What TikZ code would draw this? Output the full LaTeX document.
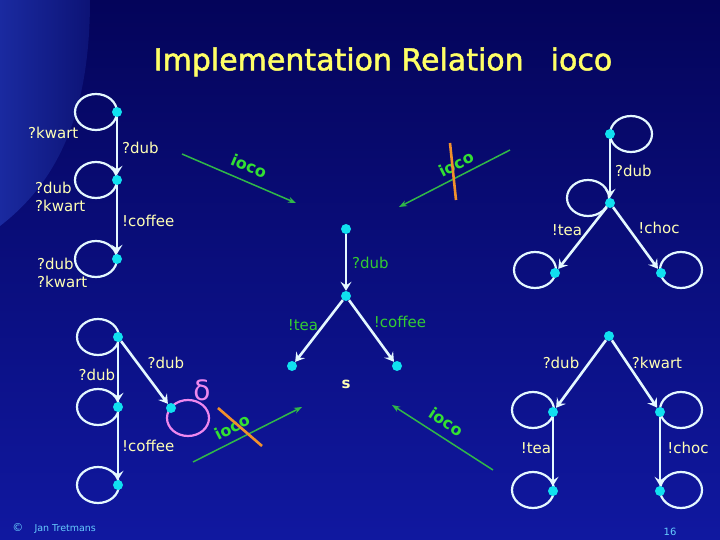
\documentclass[tikz,border=0pt]{standalone}
\usepackage{fontspec}
\setmainfont{DejaVu Sans}
\newfontfamily\titlefont{DejaVu Sans}[FakeBold=1.6]
\usetikzlibrary{arrows.meta,backgrounds}

\definecolor{bgtop}{HTML}{04045A}
\definecolor{bgbottom}{HTML}{1018A0}
\definecolor{bglight}{HTML}{1A2AA0}
\definecolor{statecyan}{HTML}{10E0F0}
\definecolor{linewhite}{HTML}{E4F8FF}
\definecolor{labyellow}{HTML}{FFFFB4}
\definecolor{labgreen}{HTML}{33CC33}
\definecolor{iocogreen}{HTML}{33E033}
\definecolor{arrowgreen}{HTML}{30B848}
\definecolor{slashorange}{HTML}{F0902C}
\definecolor{deltapink}{HTML}{EE88EE}
\definecolor{titleyellow}{HTML}{FFFF66}
\definecolor{footblue}{HTML}{66CCFF}

\tikzset{
  state/.style={circle, fill=statecyan, inner sep=0pt, minimum size=10pt},
  trans/.style={draw=linewhite, line width=2.6pt, -{Stealth[length=9pt,width=11pt,inset=3.5pt]}},
  selfloop/.style={draw=linewhite, line width=2.2pt},
  loopsize/.style={x radius=21pt, y radius=18pt},
  lab/.style={text=labyellow, font=\fontsize{15}{18}\selectfont, inner sep=0pt},
  glab/.style={lab, text=labgreen},
  iocoarrow/.style={draw=arrowgreen, line width=1.5pt, -{Stealth[length=8pt,width=6pt]}},
  iocolab/.style={text=iocogreen, font=\bfseries\fontsize{16}{18}\selectfont, inner sep=0pt},
  slash/.style={draw=slashorange, line width=2.6pt}
}

\begin{document}
\begin{tikzpicture}[x=1pt, y=-1pt]
	\useasboundingbox (0,0) rectangle (720,540);

	% title
	\node[text=titleyellow, font=\titlefont\fontsize{30}{34}\selectfont] (title) at (383,62) {Implementation Relation\hspace{0.9em}ioco};

	% top left
	\node[state] (tl1) at (117,112) {};
	\node[state] (tl2) at (117,180) {};
	\node[state] (tl3) at (117,259) {};
	\draw[trans] (tl1) -- (tl2);
	\draw[trans] (tl2) -- (tl3);
	\node[lab, anchor=west] at (28,133) {?kwart};
	\node[lab, anchor=west] at (122,148) {?dub};
	\node[lab, anchor=west, align=left] at (35,197) {?dub\\?kwart};
	\node[lab, anchor=west] at (122,221) {!coffee};
	\node[lab, anchor=west, align=left] at (37,273) {?dub\\?kwart};

	% top right
	\node[state] (tr1) at (610,134) {};
	\node[state] (tr2) at (610,203) {};
	\node[state] (tr3) at (555,273) {};
	\node[state] (tr4) at (661,273) {};
	\draw[trans] (tr1) -- (tr2);
	\draw[trans] (tr2) -- (tr3);
	\draw[trans] (tr2) -- (tr4);
	\node[lab, anchor=west] at (615,171) {?dub};
	\node[lab] at (567,230) {!tea};
	\node[lab] at (659,228) {!choc};

	% middle: s
	\node[state] (m1) at (346,229) {};
	\node[state] (m2) at (346,296) {};
	\node[state] (m3) at (292,366) {};
	\node[state] (m4) at (397,366) {};
	\draw[trans] (m1) -- (m2);
	\draw[trans] (m2) -- (m3);
	\draw[trans] (m2) -- (m4);
	\node[glab, anchor=west] at (352,263) {?dub};
	\node[glab] at (303,325) {!tea};
	\node[glab] at (400,322) {!coffee};
	\node[text=labyellow, font=\bfseries\fontsize{15}{18}\selectfont] (s) at (346,384) {s};

	% bottom left
	\node[state] (bl1) at (118,337) {};
	\node[state] (bl2) at (118,407) {};
	\node[state] (bl3) at (118,485) {};
	\node[state] (bl4) at (171,408) {};
	\draw[trans] (bl1) -- (bl2);
	\draw[trans] (bl2) -- (bl3);
	\draw[trans] (bl1) -- (bl4);
	\node[lab] at (97,375) {?dub};
	\node[lab] at (166,363) {?dub};
	\node[lab, anchor=west] at (122,446) {!coffee};
	\node[text=deltapink, font=\fontsize{28}{30}\selectfont] (delta) at (202,390) {δ};

	% bottom right
	\node[state] (br1) at (609,336) {};
	\node[state] (br2) at (553,412) {};
	\node[state] (br3) at (660,412) {};
	\node[state] (br4) at (553,491) {};
	\node[state] (br5) at (660,491) {};
	\draw[trans] (br1) -- (br2);
	\draw[trans] (br1) -- (br3);
	\draw[trans] (br2) -- (br4);
	\draw[trans] (br3) -- (br5);
	\node[lab] at (561,363) {?dub};
	\node[lab] at (657,363) {?kwart};
	\node[lab] at (536,448) {!tea};
	\node[lab] at (688,448) {!choc};

	% ioco arrows
	\coordinate (g1s) at (182,154);
	\coordinate (g1e) at (296,203);
	\coordinate (g2s) at (510,150);
	\coordinate (g2e) at (399,207);
	\coordinate (g3s) at (193,462);
	\coordinate (g3e) at (302,407);
	\coordinate (g4s) at (493,470);
	\coordinate (g4e) at (392,405);
	\draw[iocoarrow] (g1s) -- (g1e);
	\draw[iocoarrow] (g2s) -- (g2e);
	\draw[iocoarrow] (g3s) -- (g3e);
	\draw[iocoarrow] (g4s) -- (g4e);
	\node[iocolab, rotate=-23] at (249,166) {ioco};
	\node[iocolab, rotate=27] at (456,164) {ioco};
	\node[iocolab, rotate=27] at (232,427) {ioco};
	\node[iocolab, rotate=-33] at (446,422) {ioco};
	\draw[slash] (450,143) -- (456,200);
	\draw[slash] (218,408) -- (262,446);

	% footer
	\node[text=footblue, font=\fontsize{11}{12}\selectfont] at (18,528) {©};
	\node[text=footblue, font=\fontsize{9.5}{11}\selectfont, anchor=west] at (31,529) {Jan Tretmans};
	\node[text=footblue, font=\fontsize{10}{11}\selectfont] at (670,532) {16};

	\begin{scope}[on background layer]
		\shade[top color=bgtop, bottom color=bgbottom] (0,0) rectangle (720,540);
		\shade[left color=bglight, right color=bgtop!60!bglight] (0,0) -- (90,0) .. controls (90,110) and (60,180) .. (0,226) -- cycle;
		% self loops
		\draw[selfloop] ([xshift=-21pt]tl1.center) circle[loopsize];
		\draw[selfloop] ([xshift=-21pt]tl2.center) circle[loopsize];
		\draw[selfloop] ([xshift=-21pt]tl3.center) circle[loopsize];
		\draw[selfloop] ([xshift=21pt]tr1.center) circle[loopsize];
		\draw[selfloop] ([xshift=-22pt,yshift=5pt]tr2.center) circle[loopsize];
		\draw[selfloop] ([xshift=-20pt,yshift=3pt]tr3.center) circle[loopsize];
		\draw[selfloop] ([xshift=20pt,yshift=3pt]tr4.center) circle[loopsize];
		\draw[selfloop] ([xshift=-20pt]bl1.center) circle[loopsize];
		\draw[selfloop] ([xshift=-20pt]bl2.center) circle[loopsize];
		\draw[selfloop] ([xshift=-20pt]bl3.center) circle[loopsize];
		\draw[selfloop, draw=deltapink] ([xshift=17pt,yshift=-10pt]bl4.center) circle[loopsize];
		\draw[selfloop] ([xshift=-20pt,yshift=2pt]br2.center) circle[loopsize];
		\draw[selfloop] ([xshift=21pt,yshift=2pt]br3.center) circle[loopsize];
		\draw[selfloop] ([xshift=-20pt,yshift=1pt]br4.center) circle[loopsize];
		\draw[selfloop] ([xshift=21pt,yshift=1pt]br5.center) circle[loopsize];
	\end{scope}
\end{tikzpicture}
\end{document}
